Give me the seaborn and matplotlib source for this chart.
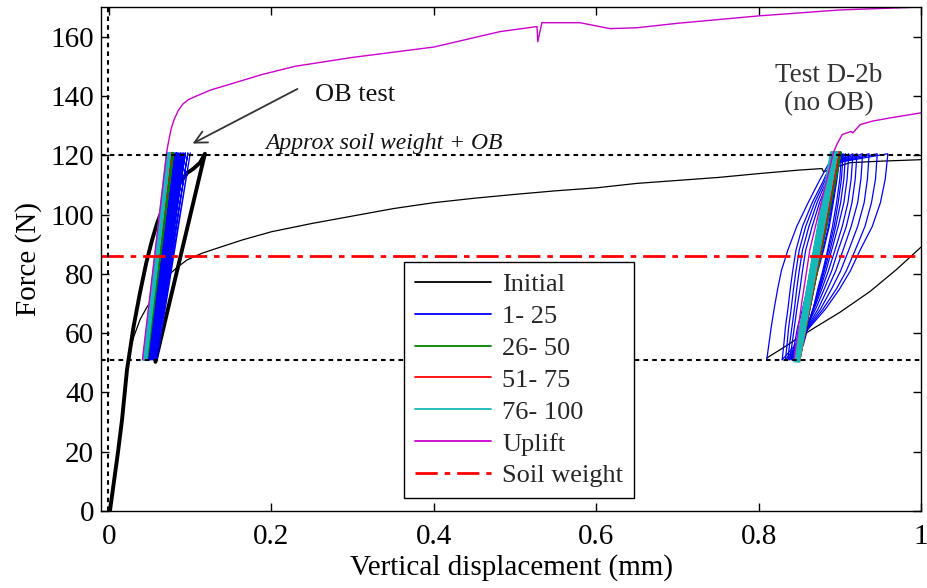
import numpy as np
import pandas as pd
import matplotlib
matplotlib.use('Agg')
import matplotlib.pyplot as plt
from matplotlib.lines import Line2D
import seaborn as sns

# ---------------- data ----------------
# "Initial" thin loading curve (Test D-2b)
init_x = [0.000, 0.004, 0.010, 0.017, 0.023, 0.030, 0.038, 0.046, 0.054, 0.062, 0.071, 0.083,
          0.096, 0.115, 0.137, 0.165, 0.200, 0.250, 0.300, 0.350, 0.400, 0.450, 0.500, 0.550,
          0.600, 0.650, 0.700, 0.750, 0.800, 0.850, 0.878, 0.880, 0.895, 0.913, 0.950, 1.000]
init_y = [0.0, 8.0, 19.0, 35.0, 51.0, 58.5, 64.5, 68.5, 72.0, 75.5, 79.0, 82.0,
          84.7, 87.0, 89.0, 91.5, 94.2, 97.0, 99.5, 102.0, 104.0, 105.5, 106.8, 108.0,
          109.0, 110.5, 111.5, 112.5, 113.8, 115.0, 115.5, 114.4, 116.0, 117.5, 118.0, 118.5]

# black reload branch after the D-2b cycles
reb_x = [0.810, 0.830, 0.845, 0.870, 0.900, 0.937, 0.970, 1.000]
reb_y = [51.6, 55.0, 57.7, 62.0, 67.0, 74.0, 81.5, 89.0]

# OB test initial load / unload (thick black)
ob_x = [0.001, 0.006, 0.011, 0.016, 0.022, 0.030, 0.038, 0.046, 0.053, 0.059, 0.066, 0.075,
        0.087, 0.096, 0.104, 0.112, 0.118, 0.057]
ob_y = [0.0, 10.0, 20.0, 31.0, 47.6, 62.0, 73.6, 84.0, 91.5, 97.0, 102.0, 106.5,
        110.7, 114.0, 115.5, 117.5, 120.5, 50.3]

# OB test cycles (left cluster): bottom / top displacements of each loop
F_low, F_high = 51.0, 120.8
ob_blue_bot = [0.059, 0.057, 0.056, 0.055, 0.054, 0.053, 0.052, 0.051, 0.050, 0.050, 0.049, 0.048]
ob_blue_top = [0.100, 0.097, 0.094, 0.092, 0.090, 0.088, 0.086, 0.084, 0.083, 0.082, 0.080, 0.079]
ob_green_bot = [0.047, 0.046, 0.046]
ob_green_top = [0.079, 0.078, 0.077]
ob_red_bot = [0.045, 0.044, 0.043]
ob_red_top = [0.076, 0.075, 0.075]
ob_cyan_bot = [0.046, 0.045, 0.044, 0.043, 0.042]
ob_cyan_top = [0.075, 0.074, 0.073, 0.072, 0.071]

# D-2b cycles 1-25 (right cluster): reload branch, creep along the top, unload branch
rl_levels = [51.0, 56.0, 62.0, 68.0, 75.0, 81.0, 88.0, 96.0, 104.0, 111.0, 117.0]
ul_levels = [120.0, 112.0, 104.0, 96.0, 88.0, 81.0, 75.0, 68.0, 62.0, 56.0, 51.0]
d2_blue_reload = [
    [0.810, 0.8125, 0.8155, 0.819, 0.8235, 0.828, 0.836, 0.847, 0.861, 0.874, 0.886],
    [0.829, 0.831, 0.833, 0.836, 0.839, 0.842, 0.846, 0.854, 0.866, 0.879, 0.889],
    [0.833, 0.835, 0.837, 0.840, 0.843, 0.846, 0.850, 0.858, 0.869, 0.881, 0.890],
    [0.836, 0.838, 0.841, 0.844, 0.847, 0.850, 0.854, 0.862, 0.872, 0.883, 0.891],
    [0.838, 0.841, 0.844, 0.847, 0.851, 0.854, 0.858, 0.866, 0.875, 0.885, 0.892],
    [0.840, 0.844, 0.848, 0.854, 0.860, 0.866, 0.872, 0.879, 0.886, 0.891, 0.894],
    [0.842, 0.846, 0.851, 0.857, 0.863, 0.869, 0.875, 0.882, 0.888, 0.893, 0.896],
    [0.843, 0.848, 0.853, 0.859, 0.865, 0.871, 0.877, 0.884, 0.890, 0.894, 0.897],
    [0.844, 0.849, 0.854, 0.860, 0.866, 0.872, 0.879, 0.886, 0.891, 0.895, 0.898],
    [0.845, 0.850, 0.855, 0.861, 0.867, 0.873, 0.880, 0.887, 0.892, 0.896, 0.899],
]
d2_blue_top = [0.959, 0.946, 0.936, 0.928, 0.921, 0.916, 0.911, 0.907, 0.904, 0.902]
d2_blue_unload = [
    [0.959, 0.956, 0.950, 0.940, 0.925, 0.913, 0.900, 0.882, 0.863, 0.845, 0.829],
    [0.946, 0.944, 0.939, 0.931, 0.919, 0.908, 0.896, 0.879, 0.862, 0.847, 0.833],
    [0.936, 0.934, 0.930, 0.922, 0.911, 0.901, 0.890, 0.876, 0.861, 0.848, 0.836],
    [0.928, 0.926, 0.922, 0.914, 0.904, 0.895, 0.885, 0.873, 0.860, 0.849, 0.838],
    [0.921, 0.919, 0.915, 0.908, 0.898, 0.890, 0.881, 0.870, 0.859, 0.850, 0.840],
    [0.916, 0.914, 0.910, 0.903, 0.894, 0.886, 0.878, 0.868, 0.859, 0.851, 0.842],
    [0.911, 0.909, 0.905, 0.898, 0.890, 0.883, 0.876, 0.867, 0.859, 0.852, 0.843],
    [0.907, 0.905, 0.901, 0.895, 0.888, 0.881, 0.875, 0.867, 0.860, 0.853, 0.844],
    [0.904, 0.902, 0.898, 0.893, 0.886, 0.880, 0.874, 0.867, 0.860, 0.854, 0.845],
    [0.902, 0.900, 0.896, 0.891, 0.885, 0.879, 0.873, 0.867, 0.861, 0.855, 0.846],
]
d2_green_bot = [0.848, 0.849, 0.850]
d2_green_top = [0.900, 0.901, 0.901]
d2_red_bot = [0.849, 0.850]
d2_red_top = [0.898, 0.899]
d2_cyan_bot = [0.850, 0.849, 0.849, 0.848, 0.848, 0.847, 0.847, 0.846, 0.846, 0.845, 0.845, 0.844]
d2_cyan_top = [0.897, 0.896, 0.895, 0.895, 0.894, 0.893, 0.893, 0.892, 0.891, 0.891, 0.890, 0.889]

# Uplift curves
up1_x = [0.041, 0.056, 0.0714, 0.0735, 0.0765, 0.080, 0.085, 0.091, 0.098, 0.106, 0.125, 0.147,
         0.188, 0.229, 0.300, 0.400, 0.4815, 0.527, 0.528, 0.533, 0.580, 0.617, 0.650, 0.700,
         0.800, 0.900, 1.000]
up1_y = [51.0, 86.0, 121.9, 125.0, 129.0, 132.0, 135.0, 137.3, 138.8, 139.8, 142.0, 143.8,
         147.2, 150.0, 153.0, 156.5, 161.7, 163.4, 158.3, 164.7, 164.7, 162.7, 163.0, 164.5,
         167.0, 169.0, 170.0]
up2_x = [0.8435, 0.853, 0.863, 0.877, 0.892, 0.897, 0.903, 0.914, 0.916, 0.925, 0.940, 0.962, 1.000]
up2_y = [51.0, 70.0, 88.0, 104.0, 120.8, 124.0, 127.0, 128.0, 127.5, 130.3, 131.5, 132.6, 134.3]

soil_weight = 86.0
approx_soil_ob = 120.0
lower_load = 51.0

# ---------------- helpers ----------------
def zigzag(bots, tops, lo, hi):
    xs, ys = [], []
    for b, t in zip(bots, tops):
        xs += [b, t]
        ys += [lo, hi]
    return xs, ys

def frame(groups):
    rows = []
    for u, (xs, ys) in enumerate(groups):
        for x, y in zip(xs, ys):
            rows.append((u, x, y))
    return pd.DataFrame(rows, columns=['unit', 'x', 'y'])

sns.set_theme(style='ticks')
plt.rcParams['font.family'] = ['Liberation Serif', 'DejaVu Serif']

fig = plt.figure(figsize=(9.27, 5.88), dpi=100)
ax = fig.add_axes([101/927, 1 - 511/588, 820/927, 504/588])

C_BLUE, C_GREEN, C_RED, C_CYAN, C_MAG = '#0000ff', '#008000', '#ff0000', '#17b8b8', '#cc00cc'
SW_DASH = (0, (8, 2.5, 2, 2.5))

def draw(groups, color, lw):
    df = frame(groups)
    sns.lineplot(data=df, x='x', y='y', units='unit', estimator=None, sort=False,
                 color=color, lw=lw, ax=ax, legend=False)

# initial curves
draw([(init_x, init_y), (reb_x, reb_y)], 'black', 0.9)
draw([(ob_x, ob_y)], 'black', 2.8)

# blue cycles
bx, by = zigzag(ob_blue_bot, ob_blue_top, F_low, F_high)
groups = [(bx, by)]
for r, t, u in zip(d2_blue_reload, d2_blue_top, d2_blue_unload):
    xs = list(r) + [t] + list(u)
    ys = list(rl_levels) + [120.5] + list(ul_levels)
    groups.append((xs, ys))
draw(groups, C_BLUE, 0.9)

for (b1, t1, b2, t2, col) in [
    (ob_green_bot, ob_green_top, d2_green_bot, d2_green_top, C_GREEN),
    (ob_red_bot, ob_red_top, d2_red_bot, d2_red_top, C_RED),
    (ob_cyan_bot, ob_cyan_top, d2_cyan_bot, d2_cyan_top, C_CYAN)]:
    g1 = zigzag(b1, t1, F_low, F_high)
    g2 = zigzag(b2, t2, 50.5, 121.0)
    draw([g1, g2], col, 1.4)

draw([(up1_x, up1_y), (up2_x, up2_y)], C_MAG, 1.0)

# reference lines
ax.axhline(soil_weight, color='#ff0000', lw=2.0, ls=SW_DASH)
ax.axhline(approx_soil_ob, color='black', lw=1.5, ls=(0, (2.2, 2.0)))
ax.axhline(lower_load, color='black', lw=1.5, ls=(0, (2.2, 2.0)))
ax.axvline(-0.0015, color='black', lw=1.5, ls=(0, (2.2, 2.0)))

# annotations
ax.annotate('', xy=(0.0998, 123.5), xytext=(0.235, 142.8),
            arrowprops=dict(arrowstyle='->', color='#333333', lw=1.3, mutation_scale=22))
ax.text(0.254, 140.4, 'OB test', fontsize=19, va='center', ha='left', color='#111111')
ax.text(0.192, 124.0, 'Approx soil weight + OB', fontsize=17, style='italic',
        va='center', ha='left', color='#111111')
ax.text(0.886, 142.2, 'Test D-2b\n(no OB)', fontsize=19.5, ha='center', va='center',
        color='#333333', linespacing=1.2)

# axes
ax.set_xlim(-0.01, 1.0)
ax.set_ylim(0, 170)
ax.set_xticks([0, 0.2, 0.4, 0.6, 0.8, 1.0])
ax.set_xticklabels(['0', '0.2', '0.4', '0.6', '0.8', '1'])
ax.set_yticks(np.arange(0, 161, 20))
ax.tick_params(direction='in', length=6, width=1, top=True, right=True,
               labelsize=21, colors='black')
ax.tick_params(axis='x', pad=9)
ax.tick_params(axis='y', pad=5)
for s in ax.spines.values():
    s.set_visible(True)
    s.set_color('black')
    s.set_linewidth(1.0)
ax.set_xlabel('Vertical displacement (mm)', fontsize=21, labelpad=3, color='black')
ax.set_ylabel('Force (N)', fontsize=21, labelpad=6, color='black')

handles = [Line2D([], [], color='black', lw=1.3),
           Line2D([], [], color=C_BLUE, lw=1.3),
           Line2D([], [], color=C_GREEN, lw=1.3),
           Line2D([], [], color=C_RED, lw=1.3),
           Line2D([], [], color=C_CYAN, lw=1.3),
           Line2D([], [], color=C_MAG, lw=1.3),
           Line2D([], [], color='#ff0000', lw=2.0, ls=SW_DASH)]
labels = ['Initial', '1- 25', '26- 50', '51- 75', '76- 100', 'Uplift', 'Soil weight']
leg = ax.legend(handles, labels, loc='lower left', bbox_to_anchor=(0.3695, 0.0258),
                borderaxespad=0, fontsize=19, frameon=True, fancybox=False,
                edgecolor='black', framealpha=1, handlelength=2.9, handletextpad=0.42,
                labelspacing=0.32, borderpad=0.4)
leg.get_frame().set_linewidth(1.0)

fig.savefig('out.png', dpi=100)
